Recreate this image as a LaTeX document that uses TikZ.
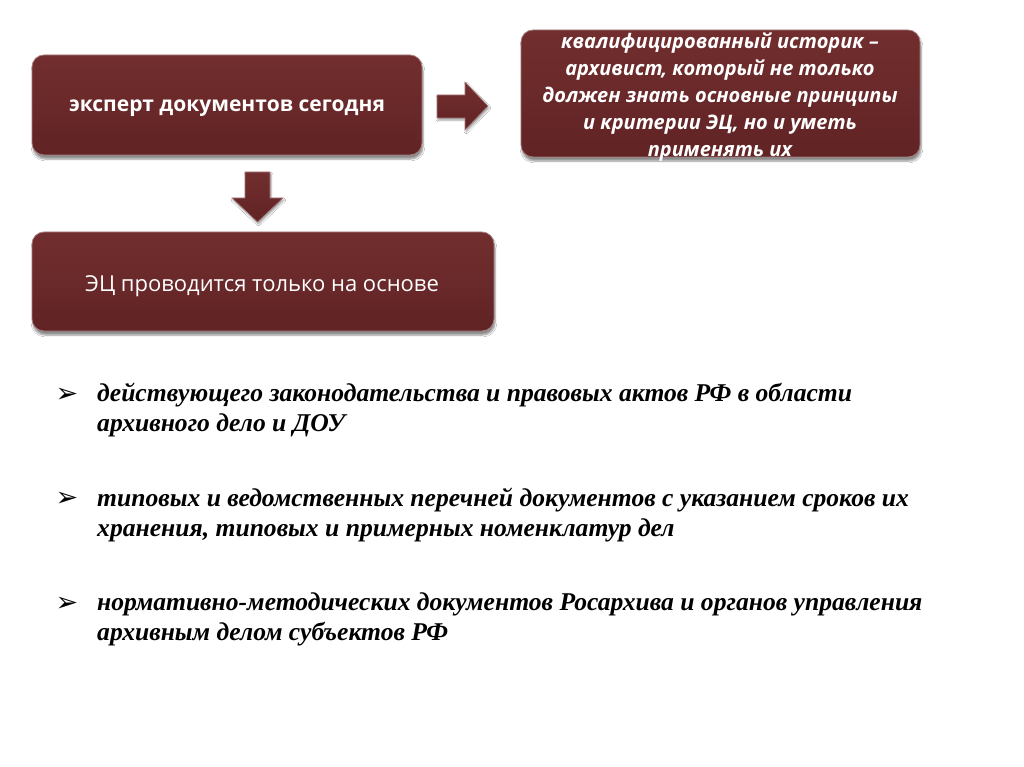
\documentclass[tikz,border=0pt]{standalone}
\usepackage{fontspec}
\setmainfont{Liberation Serif}
\newfontfamily\boxfont{Open Sans}
\newfontfamily\symfont{DejaVu Sans}
\usetikzlibrary{shadows.blur}
\definecolor{maroon}{HTML}{6B2627}
\definecolor{maroonlt}{HTML}{722E2F}
\definecolor{maroondk}{HTML}{612324}
\tikzset{
  mbox/.style={rounded corners=12pt, top color=maroonlt, bottom color=maroondk, draw=maroon!60!white, line width=0.8pt,
    blur shadow={shadow xshift=1pt, shadow yshift=-4pt, shadow blur steps=6, shadow opacity=45}},
  marrow/.style={top color=maroonlt, bottom color=maroondk, draw=maroon!60!white, line width=0.6pt,
    blur shadow={shadow xshift=1pt, shadow yshift=-2pt, shadow blur steps=4, shadow opacity=40}},
  btxt/.style={text=white, align=center},
  ltxt/.style={anchor=base west, font=\fontsize{25.6}{30}\selectfont\bfseries\itshape, inner sep=0pt},
  bul/.style={font=\symfont\fontsize{27}{27}\selectfont, inner sep=0pt}
}
\begin{document}
\begin{tikzpicture}[x=1pt,y=-1pt]
\useasboundingbox[fill=white] (0,0) rectangle (1024,767);
% boxes
\path[mbox] (32,55) rectangle (422,155);
\node[btxt, font=\boxfont\bfseries\fontsize{21}{24}\selectfont, anchor=base] (b1) at (227,112) {эксперт документов сегодня};
\path[mbox] (521,30) rectangle (920,157);
\node[btxt, font=\boxfont\bfseries\itshape\fontsize{20}{27.2}\selectfont] (b2) at (720,97) {квалифицированный историк –\\архивист, который не только\\должен знать основные принципы\\и критерии ЭЦ, но и уметь\\применять их};
\path[mbox] (32,232) rectangle (494,331);
\node[btxt, font=\boxfont\fontsize{22}{24}\selectfont, anchor=base] (b3) at (262,291) {ЭЦ проводится только на основе};
% arrows
\path[marrow] (437,95) -- (465,95) -- (465,82) -- (488,106) -- (465,130) -- (465,118) -- (437,118) -- cycle;
\path[marrow] (245,172) -- (270,172) -- (270,198) -- (283,198) -- (257.5,222) -- (232,198) -- (245,198) -- cycle;
% bullets
\node[bul] (s1) at (67,395) {➢};
\node[ltxt] (t1a) at (97,401) {действующего законодательства и правовых актов РФ в области};
\node[ltxt] (t1b) at (97,431) {архивного дело и ДОУ};
\node[bul] (s2) at (67,499) {➢};
\node[ltxt] (t2a) at (97,506) {типовых и ведомственных перечней документов с указанием сроков их};
\node[ltxt] (t2b) at (97,536) {хранения, типовых и примерных номенклатур дел};
\node[bul] (s3) at (67,604) {➢};
\node[ltxt] (t3a) at (97,610) {нормативно-методических документов Росархива и органов управления};
\node[ltxt] (t3b) at (97,640) {архивным делом субъектов РФ};
\end{tikzpicture}
\end{document}
